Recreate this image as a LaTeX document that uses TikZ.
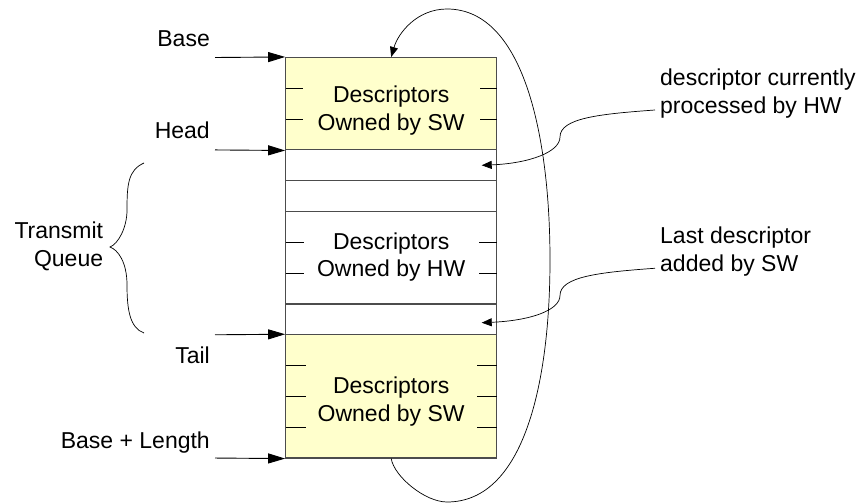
\documentclass[tikz,border=0pt]{standalone}
\usepackage{fontspec}
\setmainfont{Liberation Sans}
\usetikzlibrary{arrows.meta}
\definecolor{swyellow}{RGB}{255,255,204}

\tikzset{
  block/.style={draw=black!70, line width=1.1pt, minimum width=211pt, inner sep=0pt},
  swblock/.style={block, fill=swyellow},
  lbl/.style={inner sep=0pt},
  ptr/.style={line width=0.9pt, -{Triangle[length=17pt,width=10pt]}},
  hint/.style={line width=0.7pt, -{Triangle[length=10pt,width=8pt]}},
}

\begin{document}
\begin{tikzpicture}[x=1pt, y=-1pt, every node/.style={font=\fontsize{23}{27.5}\selectfont}]
	\useasboundingbox (0,0) rectangle (860,503);
	% descriptor ring
	\node[swblock, minimum height=92.43pt] (topsw) at (391.2,103.72) {};
	\node[block, minimum height=184.86pt] (hwq) at (391.2,242.36) {};
	\node[swblock, minimum height=123.24pt] (botsw) at (391.2,396.41) {};
	\foreach \y in {180.74,211.55,303.98} {\draw[black!70, line width=1.1pt] (285.7,\y) -- (496.7,\y);}
	\foreach \y/\d in {88.31/17, 119.12/17, 242.36/18, 273.17/18, 365.6/20, 396.41/20, 427.22/20} {
		\draw[line width=0.9pt] (285.7,\y) -- ++(\d,0);
		\draw[line width=0.9pt] (496.7,\y) -- ++(-\d,0);
	}
	\node[lbl, align=center] (toptxt) at (391.2,110.4) {Descriptors\\Owned by SW};
	\node[lbl, align=center] (hwtxt) at (391.2,257) {Descriptors\\Owned by HW};
	\node[lbl, align=center] (bottxt) at (391.2,401.8) {Descriptors\\Owned by SW};

	% pointers on the left
	\node[lbl, anchor=base east] (base) at (210,46.7) {Base};
	\node[lbl, anchor=base east] (head) at (210,138.3) {Head};
	\node[lbl, anchor=base east] (tail) at (210,363.3) {Tail};
	\node[lbl, anchor=base east] (baselen) at (210,448.3) {Base + Length};
	\coordinate (baseIn) at (215,57.5);
	\coordinate (headIn) at (215,149.93);
	\coordinate (tailIn) at (215,334.79);
	\coordinate (lenIn) at (215,458.03);
	\draw[ptr] (baseIn) -- (topsw.north west);
	\draw[ptr] (headIn) -- (topsw.south west);
	\draw[ptr] (tailIn) -- (botsw.north west);
	\draw[ptr] (lenIn) -- (botsw.south west);

	% queue brace
	\draw[line width=0.7pt] (144,163) .. controls (128,170) and (127,185) .. (127,210)
		.. controls (127,228) and (118,244) .. (110,247)
		.. controls (118,250) and (127,262) .. (127,285)
		.. controls (127,310) and (130,328) .. (144,333);
	\node[lbl, align=right, anchor=east] (txq) at (103.3,246.2) {Transmit\\Queue};

	% notes on the right
	\node[lbl, align=left, anchor=west] (curlbl) at (660,93.75) {descriptor currently\\processed by HW};
	\node[lbl, align=left, anchor=west] (lastlbl) at (660,251.75) {Last descriptor\\added by SW};
	\coordinate (curbend) at (560,137);
	\coordinate (curslot) at (481.7,165.3);
	\coordinate (lastbend) at (560,295.5);
	\coordinate (lastslot) at (481.7,322.7);
	\draw[hint] ([shift={(-5,16.25)}]curlbl.west) .. controls +(-55,4) and +(0,-19) .. (curbend)
		.. controls +(0,15) and +(48,-2) .. (curslot);
	\draw[hint] ([shift={(-5,16.5)}]lastlbl.west) .. controls +(-55,4) and +(0,-19) .. (lastbend)
		.. controls +(0,15) and +(48,-2) .. (lastslot);

	% wrap around
	\coordinate (loopbot) at (447,502);
	\coordinate (loopside) at (550,260);
	\coordinate (looptop) at (447,9);
	\draw[hint] (botsw.south) .. controls +(3,18) and +(-22,0) .. (loopbot)
		.. controls +(78,0) and +(0,120) .. (loopside)
		.. controls +(0,-120) and +(78,0) .. (looptop)
		.. controls +(-30,0) and +(7,-24) .. (topsw.north);
\end{tikzpicture}
\end{document}
